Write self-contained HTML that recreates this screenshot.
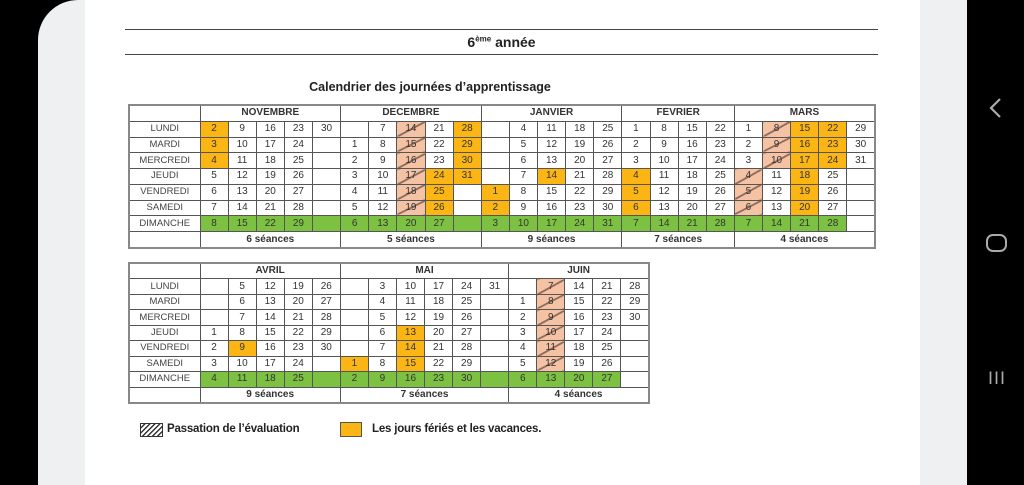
<!DOCTYPE html>
<html><head><meta charset="utf-8"><style>
*{margin:0;padding:0;box-sizing:border-box}
body{width:1024px;height:485px;background:#000;position:relative;overflow:hidden;font-family:"Liberation Sans",sans-serif;color:#333}
.page{position:absolute;left:38px;top:0;width:929px;height:485px;background:#eef0f2;border-top-left-radius:40px}
.white{position:absolute;left:85px;top:0;width:835px;height:485px;background:#fff}
.hl{position:absolute;left:125px;width:753px;height:1px;background:#444}
.t{position:absolute;border-collapse:collapse;table-layout:fixed;border:2px solid #888;font-size:10px;text-align:center}
.t td{border:1px solid #555;padding:0;overflow:hidden;white-space:nowrap;line-height:14px}
.t td.l{font-size:9.5px;color:#444}
.t td.m{font-weight:bold;font-size:10px;color:#333}
.o{background:#fbb615}
.g{background:#7dc143}
.h{background:linear-gradient(to bottom right,#f5c2a4 45%,#8a6a5a 48%,#8a6a5a 52%,#f5c2a4 55%)}
.nav{position:absolute;color:#aaa;font-family:"DejaVu Sans",sans-serif}
</style></head><body>
<div class="page"></div>
<div class="white"></div>
<div class="hl" style="top:29px"></div>
<div class="hl" style="top:54px"></div>
<div style="position:absolute;left:125px;width:753px;top:34px;text-align:center;font-weight:bold;font-size:14px;color:#222">6<sup style="font-size:8px">ème</sup> année</div>
<div style="position:absolute;left:125px;width:610px;top:80px;text-align:center;font-weight:bold;font-size:12.5px;color:#222">Calendrier des journées d’apprentissage</div>

<table class="t" style="left:128px;top:104px;width:748px;height:145px">
<colgroup><col style="width:71px"><col span="24"></colgroup>
<tr><td></td><td class="m" colspan="5">NOVEMBRE</td><td class="m" colspan="5">DECEMBRE</td><td class="m" colspan="5">JANVIER</td><td class="m" colspan="4">FEVRIER</td><td class="m" colspan="5">MARS</td></tr>
<tr><td class="l">LUNDI</td><td class="o">2</td><td>9</td><td>16</td><td>23</td><td>30</td><td></td><td>7</td><td class="h">14</td><td>21</td><td class="o">28</td><td></td><td>4</td><td>11</td><td>18</td><td>25</td><td>1</td><td>8</td><td>15</td><td>22</td><td>1</td><td class="h">8</td><td class="o">15</td><td class="o">22</td><td>29</td></tr>
<tr><td class="l">MARDI</td><td class="o">3</td><td>10</td><td>17</td><td>24</td><td></td><td>1</td><td>8</td><td class="h">15</td><td>22</td><td class="o">29</td><td></td><td>5</td><td>12</td><td>19</td><td>26</td><td>2</td><td>9</td><td>16</td><td>23</td><td>2</td><td class="h">9</td><td class="o">16</td><td class="o">23</td><td>30</td></tr>
<tr><td class="l">MERCREDI</td><td class="o">4</td><td>11</td><td>18</td><td>25</td><td></td><td>2</td><td>9</td><td class="h">16</td><td>23</td><td class="o">30</td><td></td><td>6</td><td>13</td><td>20</td><td>27</td><td>3</td><td>10</td><td>17</td><td>24</td><td>3</td><td class="h">10</td><td class="o">17</td><td class="o">24</td><td>31</td></tr>
<tr><td class="l">JEUDI</td><td>5</td><td>12</td><td>19</td><td>26</td><td></td><td>3</td><td>10</td><td class="h">17</td><td class="o">24</td><td class="o">31</td><td></td><td>7</td><td class="o">14</td><td>21</td><td>28</td><td class="o">4</td><td>11</td><td>18</td><td>25</td><td class="h">4</td><td>11</td><td class="o">18</td><td>25</td><td></td></tr>
<tr><td class="l">VENDREDI</td><td>6</td><td>13</td><td>20</td><td>27</td><td></td><td>4</td><td>11</td><td class="h">18</td><td class="o">25</td><td></td><td class="o">1</td><td>8</td><td>15</td><td>22</td><td>29</td><td class="o">5</td><td>12</td><td>19</td><td>26</td><td class="h">5</td><td>12</td><td class="o">19</td><td>26</td><td></td></tr>
<tr><td class="l">SAMEDI</td><td>7</td><td>14</td><td>21</td><td>28</td><td></td><td>5</td><td>12</td><td class="h">19</td><td class="o">26</td><td></td><td class="o">2</td><td>9</td><td>16</td><td>23</td><td>30</td><td class="o">6</td><td>13</td><td>20</td><td>27</td><td class="h">6</td><td>13</td><td class="o">20</td><td>27</td><td></td></tr>
<tr><td class="l">DIMANCHE</td><td class="g">8</td><td class="g">15</td><td class="g">22</td><td class="g">29</td><td class="g"></td><td class="g">6</td><td class="g">13</td><td class="g">20</td><td class="g">27</td><td class="g"></td><td class="g">3</td><td class="g">10</td><td class="g">17</td><td class="g">24</td><td class="g">31</td><td class="g">7</td><td class="g">14</td><td class="g">21</td><td class="g">28</td><td class="g">7</td><td class="g">14</td><td class="g">21</td><td class="g">28</td><td></td></tr>
<tr><td></td><td class="m" colspan="5">6 séances</td><td class="m" colspan="5">5 séances</td><td class="m" colspan="5">9 séances</td><td class="m" colspan="4">7 séances</td><td class="m" colspan="5">4 séances</td></tr>
</table>

<table class="t" style="left:128px;top:262px;width:522px;height:142px">
<colgroup><col style="width:71px"><col span="16"></colgroup>
<tr><td></td><td class="m" colspan="5">AVRIL</td><td class="m" colspan="6">MAI</td><td class="m" colspan="5">JUIN</td></tr>
<tr><td class="l">LUNDI</td><td></td><td>5</td><td>12</td><td>19</td><td>26</td><td></td><td>3</td><td>10</td><td>17</td><td>24</td><td>31</td><td></td><td class="h">7</td><td>14</td><td>21</td><td>28</td></tr>
<tr><td class="l">MARDI</td><td></td><td>6</td><td>13</td><td>20</td><td>27</td><td></td><td>4</td><td>11</td><td>18</td><td>25</td><td></td><td>1</td><td class="h">8</td><td>15</td><td>22</td><td>29</td></tr>
<tr><td class="l">MERCREDI</td><td></td><td>7</td><td>14</td><td>21</td><td>28</td><td></td><td>5</td><td>12</td><td>19</td><td>26</td><td></td><td>2</td><td class="h">9</td><td>16</td><td>23</td><td>30</td></tr>
<tr><td class="l">JEUDI</td><td>1</td><td>8</td><td>15</td><td>22</td><td>29</td><td></td><td>6</td><td class="o">13</td><td>20</td><td>27</td><td></td><td>3</td><td class="h">10</td><td>17</td><td>24</td><td></td></tr>
<tr><td class="l">VENDREDI</td><td>2</td><td class="o">9</td><td>16</td><td>23</td><td>30</td><td></td><td>7</td><td class="o">14</td><td>21</td><td>28</td><td></td><td>4</td><td class="h">11</td><td>18</td><td>25</td><td></td></tr>
<tr><td class="l">SAMEDI</td><td>3</td><td>10</td><td>17</td><td>24</td><td></td><td class="o">1</td><td>8</td><td class="o">15</td><td>22</td><td>29</td><td></td><td>5</td><td class="h">12</td><td>19</td><td>26</td><td></td></tr>
<tr><td class="l">DIMANCHE</td><td class="g">4</td><td class="g">11</td><td class="g">18</td><td class="g">25</td><td class="g"></td><td class="g">2</td><td class="g">9</td><td class="g">16</td><td class="g">23</td><td class="g">30</td><td class="g"></td><td class="g">6</td><td class="g">13</td><td class="g">20</td><td class="g">27</td><td></td></tr>
<tr><td></td><td class="m" colspan="5">9 séances</td><td class="m" colspan="6">7 séances</td><td class="m" colspan="5">4 séances</td></tr>
</table>

<div style="position:absolute;left:140px;top:423px;width:23px;height:14px;border:1px solid #333;background:repeating-linear-gradient(135deg,#fff 0 2px,#333 2px 3.5px)"></div>
<div style="position:absolute;left:167px;top:423px;font-size:11.5px;color:#222;font-weight:bold;letter-spacing:-0.2px">Passation de l’évaluation</div>
<div style="position:absolute;left:340px;top:422px;width:22px;height:15px;border:1px solid #555;background:#fbb615"></div>
<div style="position:absolute;left:372px;top:423px;font-size:11.5px;color:#222;font-weight:bold;letter-spacing:-0.2px">Les jours fériés et les vacances.</div>

<svg style="position:absolute;left:988px;top:97px" width="16" height="22"><polyline points="12,2 3,11 12,20" fill="none" stroke="#aaa" stroke-width="2.2"/></svg>
<div style="position:absolute;left:986px;top:234px;width:21px;height:18px;border:2px solid #aaa;border-radius:7px"></div>
<div class="nav" style="left:988px;top:369px;font-size:17px;letter-spacing:1px">III</div>
</body></html>
